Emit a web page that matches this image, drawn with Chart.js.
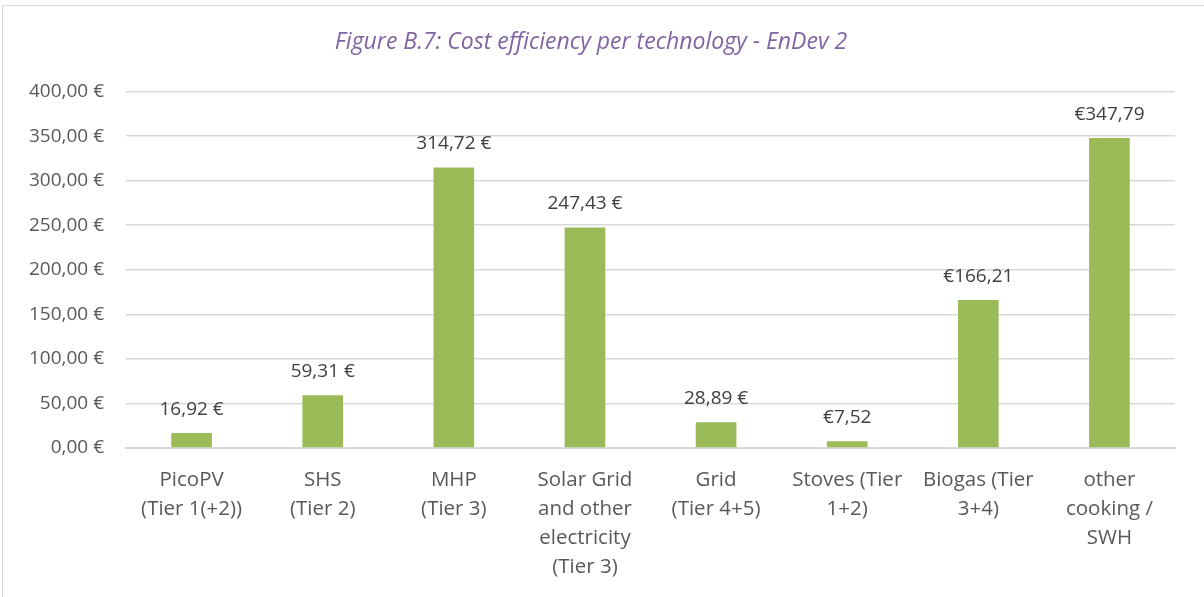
<!DOCTYPE html>
<html>
<head>
<meta charset="utf-8">
<script src="https://cdn.jsdelivr.net/npm/chart.js@4"></script>
<style>
  body { margin: 0; background: #fff; }
  #frame { position: absolute; left: 2px; top: 5px; width: 1220px; height: 620px; border: 1px solid #d9d9d9; }
  #wrap { position: absolute; left: 0; top: 0; width: 1204px; height: 597px; }
</style>
</head>
<body>
<div id="frame"></div>
<div id="wrap"><canvas id="costChart"></canvas></div>
<script>
// Cost efficiency per technology (EnDev 2)
const categories = [
  ["PicoPV", "(Tier 1(+2))"],
  ["SHS", "(Tier 2)"],
  ["MHP", "(Tier 3)"],
  ["Solar Grid", "and other", "electricity", "(Tier 3)"],
  ["Grid", "(Tier 4+5)"],
  ["Stoves (Tier", "1+2)"],
  ["Biogas (Tier", "3+4)"],
  ["other", "cooking /", "SWH"]
];
const costValues = [16.92, 59.31, 314.72, 247.43, 28.89, 7.52, 166.21, 347.79];
const valueLabels = ["16,92 €", "59,31 €", "314,72 €", "247,43 €", "28,89 €", "€7,52", "€166,21", "€347,79"];
const yTicks = [0, 50, 100, 150, 200, 250, 300, 350, 400];

const fontFamily = "'Open Sans', 'Noto Sans', sans-serif";

// draws the value text above every bar
const barLabels = {
  id: 'barLabels',
  afterDatasetsDraw(chart) {
    const ctx = chart.ctx;
    const meta = chart.getDatasetMeta(0);
    ctx.save();
    ctx.font = "19px " + fontFamily;
    ctx.fillStyle = "#404040";
    ctx.textAlign = "center";
    ctx.textBaseline = "bottom";
    meta.data.forEach((bar, i) => {
      ctx.fillText(valueLabels[i], bar.x, bar.y - 14);
    });
    ctx.restore();
  }
};

var ctx = document.getElementById("costChart").getContext("2d");
new Chart(ctx, {
  type: "bar",
  data: {
    labels: categories,
    datasets: [
      {
        label: "Cost efficiency",
        data: costValues,
        backgroundColor: "#9bbb59",
        barPercentage: 0.31,
        categoryPercentage: 1.0,
      },
    ],
  },
  options: {
    responsive: true,
    maintainAspectRatio: false,
    animation: false,
    layout: {
      padding: { left: 7, right: 29, top: 0, bottom: -3 },
    },
    plugins: {
      legend: { display: false },
      tooltip: { enabled: false },
      title: {
        display: true,
        text: "Figure B.7: Cost efficiency per technology - EnDev 2",
        color: "#8064a2",
        font: { family: fontFamily, size: 23, style: "italic", weight: "normal" },
        padding: { top: 29, bottom: 35 },
      },
    },
    scales: {
      x: {
        grid: { display: false, drawTicks: false },
        border: { color: "#d9d9d9", width: 2 },
        ticks: {
          color: "#595959",
          font: { family: fontFamily, size: 20.5, lineHeight: 1.415 },
          padding: 18,
          maxRotation: 0,
          autoSkip: false,
        },
      },
      y: {
        min: 0,
        max: 400,
        afterBuildTicks: (axis) => {
          axis.ticks = yTicks.map((v) => ({ value: v }));
        },
        grid: { color: "#d9d9d9", lineWidth: 1.5, drawTicks: false },
        border: { display: false },
        ticks: {
          color: "#595959",
          font: { family: fontFamily, size: 19 },
          padding: 22,
          callback: (value) => value.toFixed(2).replace(".", ",") + " €",
        },
      },
    },
  },
  plugins: [barLabels],
});
</script>
</body>
</html>
